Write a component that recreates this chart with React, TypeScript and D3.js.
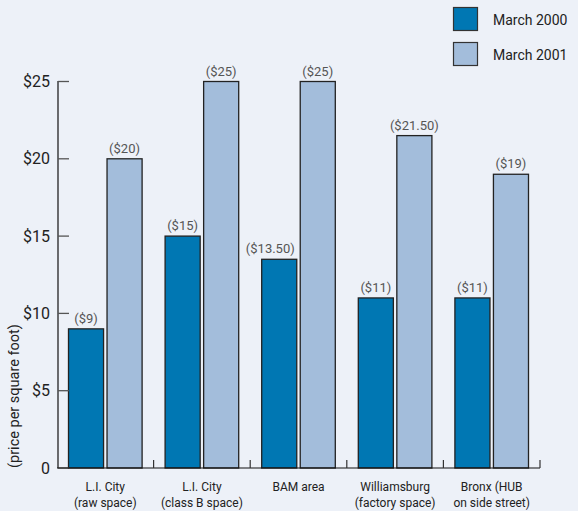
import React from "react";
import * as d3 from "d3";

const categories = ["L.I. City|(raw space)", "L.I. City|(class B space)", "BAM area", "Williamsburg|(factory space)", "Bronx (HUB|on side street)"];
const march2000 = [9, 15, 13.5, 11, 11];
const march2001 = [20, 25, 25, 21.5, 19];
const labels2000 = ["($9)", "($15)", "($13.50)", "($11)", "($11)"];
const labels2001 = ["($20)", "($25)", "($25)", "($21.50)", "($19)"];
const seriesNames = ["March 2000", "March 2001"];
const yTicks = [0, 5, 10, 15, 20, 25];

const W = 578, H = 511;
const colors = ["#0077b3", "#a3bddb"];
const FONT = "Roboto, 'Liberation Sans', sans-serif";

export default function App() {
  const x = d3.scaleBand().domain(categories).range([57, 540]).paddingInner(0).paddingOuter(0);
  const inner = d3.scaleBand().domain(seriesNames).range([11.5, x.bandwidth() - 11.5]).paddingInner(0.09);
  const y = d3.scaleLinear().domain([0, 25]).range([468, 81.5]);
  const series = [march2000, march2001];
  const labs = [labels2000, labels2001];
  return (
    <svg width={W} height={H} style={{ position: "absolute", left: 0, top: 0, background: "#edf1f8" }} fontFamily={FONT}>
      <rect x={0} y={0} width={W} height={H} fill="#edf1f8" />
      {/* bars */}
      {categories.map((c, i) => (
        <g key={c}>
          {seriesNames.map((s, j) => {
            const v = series[j][i];
            const bx = (x(c) as number) + (inner(s) as number);
            return (
              <rect key={s} x={bx} y={y(v)} width={inner.bandwidth()} height={y(0) - y(v)} fill={colors[j]} stroke="#222" strokeWidth={1.3} />
            );
          })}
          {c.split("|").map((t, k) => (
            <text key={k} x={(x(c) as number) + x.bandwidth() / 2} y={491 + k * 16} textAnchor="middle" fontSize={12} fill="#222">{t}</text>
          ))}
        </g>
      ))}
      {/* value labels */}
      {categories.map((c, i) => (
        <g key={"l" + c}>
          {seriesNames.map((s, j) => {
            const v = series[j][i];
            const bx = (x(c) as number) + (inner(s) as number);
            const long = j === 0 && labs[j][i].length > 6;
            return (
              <text key={s} x={long ? bx + inner.bandwidth() - 2 : bx + inner.bandwidth() / 2} y={y(v) - 6} textAnchor={long ? "end" : "middle"} fontSize={13} fill="#555">{labs[j][i]}</text>
            );
          })}
        </g>
      ))}
      {/* y axis */}
      <line x1={58} x2={58} y1={81} y2={468} stroke="#111" strokeWidth={1.2} />
      {yTicks.map((t) => (
        <g key={t}>
          <line x1={58} x2={69} y1={y(t)} y2={y(t)} stroke="#555" strokeWidth={1.3} />
          <text x={50} y={y(t) + 5.5} textAnchor="end" fontSize={16} fill="#222">{t === 0 ? "0" : `$${t}`}</text>
        </g>
      ))}
      {/* x axis */}
      <line x1={57} x2={540} y1={468} y2={468} stroke="#111" strokeWidth={1.2} />
      {categories.map((c, i) => (
        <line key={i} x1={(x(c) as number) + x.bandwidth()} x2={(x(c) as number) + x.bandwidth()} y1={468} y2={460} stroke="#333" strokeWidth={1.2} />
      ))}
      <text transform={`translate(19,${396}) rotate(-90)`} textAnchor="middle" fontSize={14.5} fill="#222">(price per square foot)</text>
      {/* legend */}
      {seriesNames.map((s, j) => (
        <g key={s}>
          <rect x={453.5} y={7.5 + j * 35} width={24} height={23} fill={colors[j]} stroke="#333" strokeWidth={1.2} />
          <text x={493} y={24.5 + j * 35} fontSize={14} fill="#222">{s}</text>
        </g>
      ))}
    </svg>
  );
}
